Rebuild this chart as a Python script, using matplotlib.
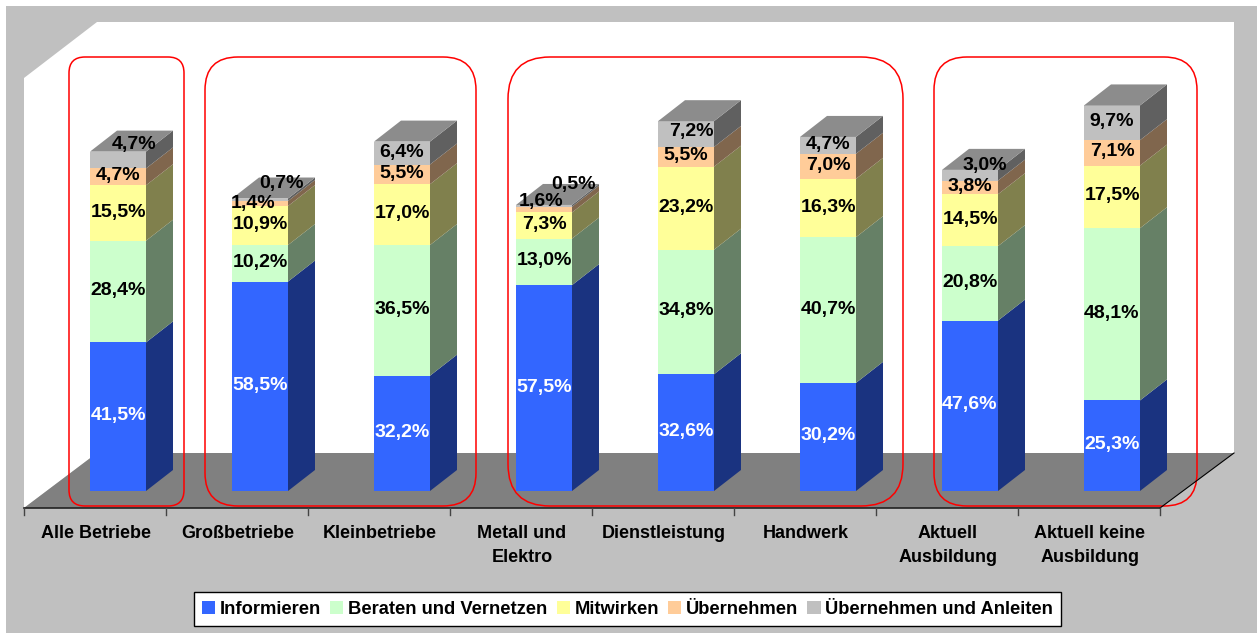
#!/usr/bin/env python3
"""Gestapeltes 3D-Saeulendiagramm: Beteiligungsformen nach Betriebsgruppen."""
import numpy as np
import matplotlib
matplotlib.use("Agg")
import matplotlib.pyplot as plt
from matplotlib.patches import FancyBboxPatch, Polygon, Rectangle

W, H = 1257, 635

categories = ["Alle Betriebe", "Großbetriebe", "Kleinbetriebe", "Metall und\nElektro",
              "Dienstleistung", "Handwerk", "Aktuell\nAusbildung", "Aktuell keine\nAusbildung"]
series = ["Informieren", "Beraten und Vernetzen", "Mitwirken", "Übernehmen", "Übernehmen und Anleiten"]

informieren = [41.5, 58.5, 32.2, 57.5, 32.6, 30.2, 47.6, 25.3]
beraten = [28.4, 10.2, 36.5, 13.0, 34.8, 40.7, 20.8, 48.1]
mitwirken = [15.5, 10.9, 17.0, 7.3, 23.2, 16.3, 14.5, 17.5]
uebernehmen = [4.7, 1.4, 5.5, 1.6, 5.5, 7.0, 3.8, 7.1]
anleiten = [4.7, 0.7, 6.4, 0.5, 7.2, 4.7, 3.0, 9.7]

C_FRONT = ["#3366FF", "#CCFFCC", "#FFFF99", "#FFCC99", "#C0C0C0"]
C_SIDE = ["#1A3380", "#668066", "#80804D", "#80664D", "#606060"]
C_TOP = "#8C8C8C"
C_BG, C_FLOOR, C_RED = "#C0C0C0", "#808080", "#FF0000"

PX_X, PX_Y = 142.0, 3.58   # px per category / per percent
X0, Y0 = 118, 491          # first bar centre, bar foot (px)
DX, DY = 27 / PX_X, 21 / PX_Y
BAR_W = 56 / PX_X

# moved labels: (series, category) -> px offset right, up
label_shift = {(4, 0): (16, 16), (3, 1): (-7, 0), (4, 1): (22, 16), (3, 3): (-3, 8),
               (4, 3): (30, 21), (4, 4): (5, 3), (4, 6): (15, 10)}

plt.rcParams["font.family"] = ["Liberation Sans", "DejaVu Sans"]
plt.rcParams["font.weight"] = "bold"
plt.rcParams["font.size"] = 13

fig = plt.figure(figsize=(W / 100, H / 100), dpi=100, facecolor="white")

# ── backdrop, in pixel coordinates ──
bg = fig.add_axes([0, 0, 1, 1], zorder=0)
bg.set_xlim(0, W); bg.set_ylim(H, 0); bg.axis("off")
bg.add_patch(Rectangle((6, 6), W - 6, 627, fc=C_BG, ec="none"))
bg.add_patch(Polygon([(24, 78), (97, 22), (1234, 22), (1234, 453), (97, 453), (24, 508)], fc="white", ec="none"))
bg.add_patch(Polygon([(24, 508), (97, 453), (1234, 453), (1160, 508)], fc=C_FLOOR, ec="none"))
bg.plot([1160, 1234], [508, 453], color="black", lw=0.8)
bg.plot([24, 1160], [508, 508], color="#222222", lw=1.2)
ticks = 24 + np.arange(len(categories) + 1) * (1160 - 24) / len(categories)
for tx in ticks:
    bg.plot([tx, tx], [508, 515], color="#444444", lw=1)
for i, name in enumerate(categories):
    bg.text(ticks[i] + (ticks[i + 1] - ticks[i]) / 2 + 1, 525, name, ha="center", va="top", linespacing=1.55)

# ── bars, in category / percent coordinates ──
ax = fig.add_axes([0, 0, 1, 1], zorder=1)
ax.set_xlim(-X0 / PX_X, (W - X0) / PX_X)
ax.set_ylim((Y0 - H) / PX_Y, Y0 / PX_Y)
ax.axis("off")

values = np.array([informieren, beraten, mitwirken, uebernehmen, anleiten])
xs = np.arange(len(categories))
bottoms = np.vstack([np.zeros(len(categories)), np.cumsum(values, axis=0)])
handles = []
for s, name in enumerate(series):
    handles.append(ax.bar(xs, values[s], BAR_W, bottom=bottoms[s], color=C_FRONT[s], label=name))
    for i in xs:
        x1, lo, hi = i + BAR_W / 2, bottoms[s, i], bottoms[s + 1, i]
        ax.add_patch(Polygon([(x1, lo), (x1 + DX, lo + DY), (x1 + DX, hi + DY), (x1, hi)], fc=C_SIDE[s], ec="none"))
for i in xs:
    xl, xr, top = i - BAR_W / 2, i + BAR_W / 2, bottoms[-1, i]
    ax.add_patch(Polygon([(xl, top), (xr, top), (xr + DX, top + DY), (xl + DX, top + DY)], fc=C_TOP, ec="none"))

for s in range(len(series)):
    for i in xs:
        sx, sy = label_shift.get((s, i), (0, 1))
        ax.annotate(f"{values[s, i]:.1f}%".replace(".", ","),
                    (i, bottoms[s, i] + values[s, i] / 2), xytext=(sx * 0.72, sy * 0.72),
                    textcoords="offset points", ha="center", va="center", fontsize=14,
                    color="white" if s == 0 else "black", zorder=5)

# ── red group frames ──
for x0, x1, r in [(69, 184, 16), (205, 476, 33), (508, 903, 42), (934, 1197, 33)]:
    ax_box = FancyBboxPatch((x0, 57), x1 - x0, 449, boxstyle=f"round,pad=0,rounding_size={r}",
                            fc="none", ec=C_RED, lw=1.1)
    bg.add_patch(ax_box)

leg = fig.legend(handles=handles, loc="center", bbox_to_anchor=(627.5 / W, 1 - 609 / H), ncol=5,
                 fancybox=False, framealpha=1, edgecolor="black", facecolor="white", fontsize=13.25,
                 handlelength=0.72, handleheight=0.72, handletextpad=0.25, columnspacing=0.5,
                 borderpad=0.44, borderaxespad=0)
leg.get_frame().set_linewidth(1)
leg.set_zorder(10)

fig.savefig("out.png", dpi=100, facecolor="white")
